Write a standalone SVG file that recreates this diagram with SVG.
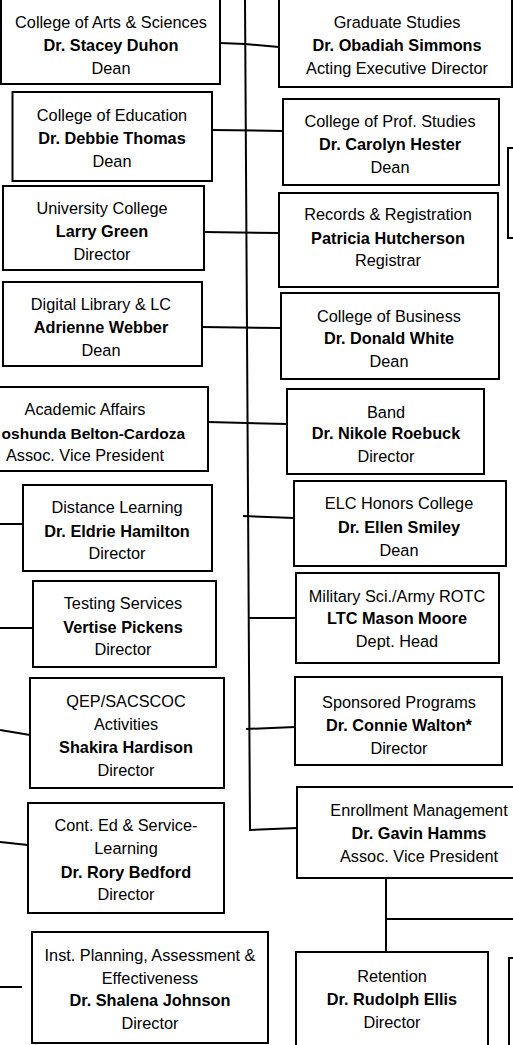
<svg xmlns="http://www.w3.org/2000/svg" width="513" height="1045" viewBox="0 0 513 1045">
<style>
.box{fill:#fff;stroke:#000;stroke-width:2}
.c{fill:none;stroke:#000;stroke-width:2}
text{font-family:"Liberation Sans",Arial,sans-serif;font-size:16.3px;fill:#000;text-anchor:middle}
.b{font-weight:bold}
</style>
<rect width="513" height="1045" fill="#fff"/>
<g id="connectors">
<polyline class="c" points="245,0 250,830 297,828"/>
<polyline class="c" points="220,43 245,44 279,47"/>
<line class="c" x1="212" y1="130" x2="283" y2="131"/>
<line class="c" x1="204" y1="232" x2="279" y2="233"/>
<line class="c" x1="202" y1="327" x2="281" y2="328"/>
<line class="c" x1="208" y1="422" x2="287" y2="424"/>
<line class="c" x1="243" y1="516" x2="294" y2="518"/>
<line class="c" x1="249" y1="618" x2="296" y2="618"/>
<line class="c" x1="246" y1="729" x2="295" y2="727"/>
<line class="c" x1="0" y1="524" x2="23" y2="524"/>
<line class="c" x1="0" y1="628" x2="33" y2="628"/>
<line class="c" x1="0" y1="730" x2="30" y2="735"/>
<line class="c" x1="0" y1="842" x2="28" y2="845"/>
<line class="c" x1="0" y1="987" x2="22" y2="987"/>
<line class="c" x1="386" y1="878" x2="386" y2="952"/>
<line class="c" x1="386" y1="919" x2="514" y2="919"/>
</g>
<g id="arts"><rect class="box" x="1" y="-5" width="219" height="89"/>
<text x="111" y="28">College of Arts &amp; Sciences</text><text class="b" x="111" y="51">Dr. Stacey Duhon</text><text x="111" y="74">Dean</text></g>
<g id="grad"><rect class="box" x="279" y="-5" width="233" height="92"/>
<text x="397" y="28">Graduate Studies</text><text class="b" x="397" y="51">Dr. Obadiah Simmons</text><text x="397" y="74">Acting Executive Director</text></g>
<g id="edu"><rect class="box" x="12.5" y="92" width="199.5" height="89"/>
<text x="112" y="121">College of Education</text><text class="b" x="112" y="144">Dr. Debbie Thomas</text><text x="112" y="167">Dean</text></g>
<g id="prof"><rect class="box" x="283" y="99" width="216" height="86"/>
<text x="390" y="127">College of Prof. Studies</text><text class="b" x="390" y="150">Dr. Carolyn Hester</text><text x="390" y="173">Dean</text></g>
<g id="right1"><rect class="box" x="508" y="148" width="12" height="90"/></g>
<g id="univ"><rect class="box" x="3" y="186" width="201" height="84"/>
<text x="102" y="214">University College</text><text class="b" x="102" y="237">Larry Green</text><text x="102" y="260">Director</text></g>
<g id="records"><rect class="box" x="279" y="193" width="219" height="94"/>
<text x="388" y="220">Records &amp; Registration</text><text class="b" x="388" y="244">Patricia Hutcherson</text><text x="388" y="266">Registrar</text></g>
<g id="digital"><rect class="box" x="3" y="282" width="199" height="84"/>
<text x="101" y="310">Digital Library &amp; LC</text><text class="b" x="101" y="333">Adrienne Webber</text><text x="101" y="356">Dean</text></g>
<g id="business"><rect class="box" x="281" y="293" width="218" height="86"/>
<text x="389" y="322">College of Business</text><text class="b" x="389" y="344">Dr. Donald White</text><text x="389" y="367">Dean</text></g>
<g id="academic"><rect class="box" x="-40" y="387" width="248" height="84"/>
<text x="85" y="415">Academic Affairs</text><text class="b" x="185" y="439" style="text-anchor:end;font-size:15.5px">oshunda Belton-Cardoza</text><text x="85" y="461">Assoc. Vice President</text></g>
<g id="band"><rect class="box" x="287" y="389" width="197" height="85"/>
<text x="386" y="418">Band</text><text class="b" x="386" y="439">Dr. Nikole Roebuck</text><text x="386" y="462">Director</text></g>
<g id="elc"><rect class="box" x="294" y="481" width="212" height="85"/>
<text x="399" y="509">ELC Honors College</text><text class="b" x="399" y="533">Dr. Ellen Smiley</text><text x="399" y="556">Dean</text></g>
<g id="distance"><rect class="box" x="23" y="485" width="189" height="86"/>
<text x="117" y="513">Distance Learning</text><text class="b" x="117" y="537">Dr. Eldrie Hamilton</text><text x="117" y="559">Director</text></g>
<g id="military"><rect class="box" x="296" y="573" width="203" height="90"/>
<text x="397" y="602">Military Sci./Army ROTC</text><text class="b" x="397" y="624">LTC Mason Moore</text><text x="397" y="647">Dept. Head</text></g>
<g id="testing"><rect class="box" x="33" y="581" width="183" height="86"/>
<text x="123" y="609">Testing Services</text><text class="b" x="123" y="633">Vertise Pickens</text><text x="123" y="655">Director</text></g>
<g id="sponsored"><rect class="box" x="295" y="677" width="207" height="88"/>
<text x="399" y="708">Sponsored Programs</text><text class="b" x="399" y="731">Dr. Connie Walton*</text><text x="399" y="754">Director</text></g>
<g id="qep"><rect class="box" x="30" y="678" width="194" height="110"/>
<text x="126" y="707">QEP/SACSCOC</text><text x="126" y="730">Activities</text><text class="b" x="126" y="753">Shakira Hardison</text><text x="126" y="776">Director</text></g>
<g id="enrollment"><rect class="box" x="297" y="787" width="223" height="91"/>
<text x="419" y="816">Enrollment Management</text><text class="b" x="419" y="839">Dr. Gavin Hamms</text><text x="419" y="862">Assoc. Vice President</text></g>
<g id="conted"><rect class="box" x="28" y="803" width="196" height="110"/>
<text x="126" y="831">Cont. Ed &amp; Service-</text><text x="126" y="854">Learning</text><text class="b" x="126" y="878">Dr. Rory Bedford</text><text x="126" y="900">Director</text></g>
<g id="inst"><rect class="box" x="32" y="932" width="236" height="111"/>
<text x="150" y="961">Inst. Planning, Assessment &amp;</text><text x="150" y="984">Effectiveness</text><text class="b" x="150" y="1006">Dr. Shalena Johnson</text><text x="150" y="1029">Director</text></g>
<g id="retention"><rect class="box" x="296" y="952" width="192" height="100"/>
<text x="392" y="982">Retention</text><text class="b" x="392" y="1005">Dr. Rudolph Ellis</text><text x="392" y="1028">Director</text></g>
<g id="right2"><rect class="box" x="509" y="958" width="12" height="100"/></g>
</svg>
